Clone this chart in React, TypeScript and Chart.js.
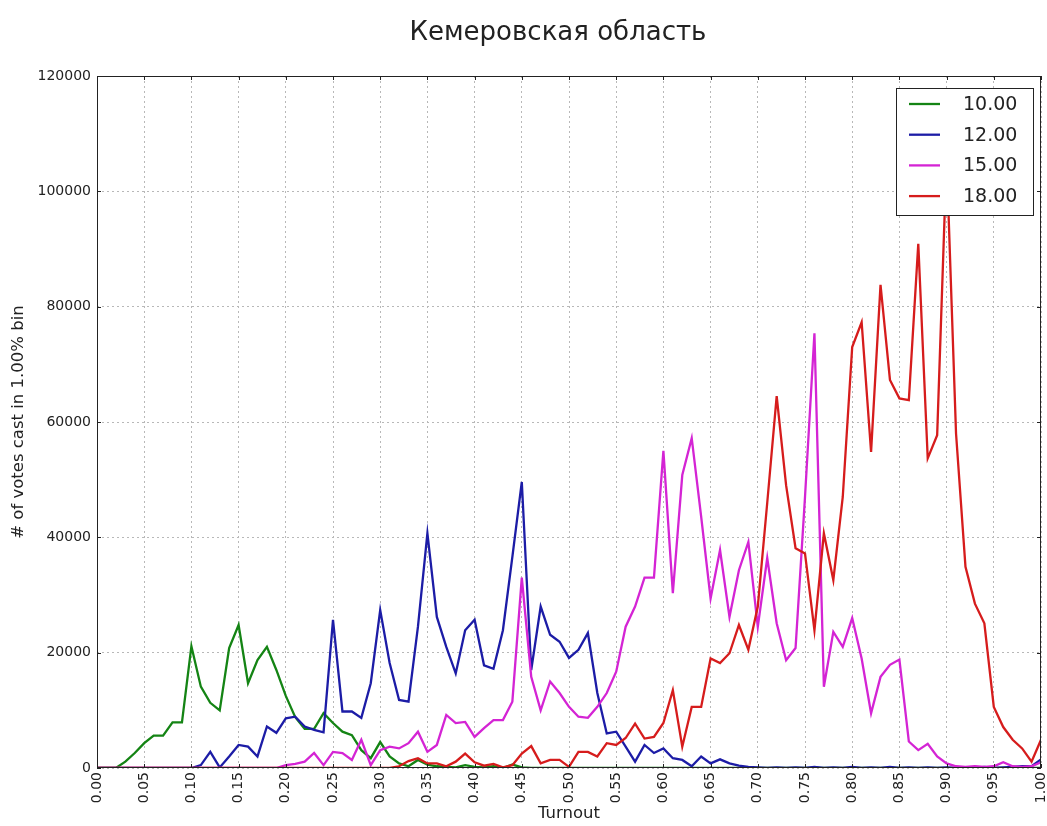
import React, { useEffect, useRef } from 'react';
import { Chart, registerables } from 'chart.js';

Chart.register(...registerables);

const TITLE = 'Кемеровская область';
const X_LABEL = 'Turnout';
const Y_LABEL = '# of votes cast in 1.00% bin';
const SERIES_LABELS = ['10.00', '12.00', '15.00', '18.00'];
const SERIES_COLORS = ['#148414', '#1c1ca6', '#d424d4', '#d61c1c'];

// turnout bins 0.00 .. 1.00 (1% bins)
const BINS: number[] = Array.from({ length: 101 }, (_, i) => i / 100);

const Y_TICKS = [0, 20000, 40000, 60000, 80000, 100000, 120000];

const V10 = [
  0, 0, 0, 1100, 2600, 4300, 5600, 5600, 7900, 7900,
  21100, 14100, 11300, 10000, 20800, 24800, 14700, 18700, 21000, 17000,
  12500, 8800, 6800, 6800, 9500, 7800, 6300, 5700, 3100, 1700,
  4500, 2000, 800, 300, 1400, 600, 300, 200, 100, 500,
  200, 100, 300, 0, 600, 100, 0, 0, 0, 0,
  0, 0, 0, 0, 0, 0, 0, 0, 0, 0,
  0, 0, 0, 0, 0, 0, 0, 0, 0, 0,
  0, 0, 0, 0, 0, 0, 0, 0, 0, 0,
  0, 0, 0, 0, 0, 0, 0, 0, 0, 0,
  0, 0, 0, 0, 0, 0, 0, 0, 0, 0,
  0,
];

const V12 = [
  0, 0, 0, 0, 0, 0, 0, 0, 0, 0,
  0, 500, 2800, 100, 2000, 4000, 3700, 2000, 7200, 6100,
  8600, 8900, 7200, 6600, 6200, 25700, 9800, 9800, 8700, 14700,
  27400, 18200, 11800, 11500, 24500, 40700, 26200, 21000, 16400, 23900,
  25700, 17800, 17200, 23900, 36600, 49600, 17000, 28000, 23100, 21900,
  19100, 20500, 23400, 13000, 6000, 6300, 3700, 1100, 4000, 2600,
  3400, 1700, 1400, 300, 2000, 800, 1500, 800, 400, 200,
  100, 0, 100, 0, 100, 0, 200, 0, 100, 0,
  200, 0, 100, 0, 200, 0, 100, 0, 100, 0,
  100, 0, 100, 0, 200, 0, 100, 200, 300, 300,
  1500,
];

const V15 = [
  0, 0, 0, 0, 0, 0, 0, 0, 0, 0,
  0, 0, 0, 0, 0, 0, 0, 0, 0, 0,
  500, 700, 1100, 2600, 500, 2800, 2600, 1400, 4900, 500,
  3100, 3700, 3400, 4300, 6300, 2800, 4000, 9200, 7800, 8000,
  5400, 6900, 8300, 8300, 11500, 33000, 15800, 10000, 15000, 13000,
  10600, 8900, 8700, 10600, 13000, 16700, 24500, 28000, 33000, 33000,
  55000, 30300, 50800, 57200, 43600, 29400, 37800, 26200, 34300, 39200,
  24500, 36400, 25100, 18700, 20800, 47000, 75400, 14100, 23600, 21000,
  26000, 19000, 9500, 15800, 17900, 18800, 4600, 3100, 4200, 2000,
  800, 300, 200, 300, 200, 300, 1000, 300, 200, 300,
  1000,
];

const V18 = [
  0, 0, 0, 0, 0, 0, 0, 0, 0, 0,
  0, 0, 0, 0, 0, 0, 0, 0, 0, 0,
  0, 0, 0, 0, 0, 0, 0, 0, 0, 0,
  0, 0, 300, 1200, 1700, 800, 800, 300, 1100, 2500,
  1000, 400, 700, 100, 500, 2500, 3800, 800, 1400, 1400,
  200, 2800, 2800, 2000, 4300, 4000, 5200, 7700, 5100, 5400,
  7800, 13500, 3700, 10600, 10600, 19000, 18200, 19900, 24800, 20500,
  28000, 46000, 64500, 49000, 38100, 37200, 23900, 40700, 32600, 47000,
  73000, 77300, 54800, 83800, 67300, 64100, 63800, 90900, 53700, 57700,
  106000, 58000, 34900, 28500, 25100, 10600, 7100, 4900, 3400, 1100,
  4900,
];

const SERIES = [V10, V12, V15, V18];

const FONT = '"DejaVu Sans", "Noto Sans", sans-serif';
const TEXT_COLOR = '#222222';

const decorPlugin = {
  id: 'decor',
  afterDatasetsDraw(chart: any) {
    const { ctx, chartArea: a, scales } = chart;
    ctx.save();
    // frame
    ctx.strokeStyle = '#222';
    ctx.lineWidth = 1;
    ctx.setLineDash([]);
    ctx.strokeRect(a.left + 0.5, a.top + 0.5, a.right - a.left - 1, a.bottom - a.top - 1);
    // inward tick marks
    ctx.beginPath();
    for (const t of scales.x.ticks) {
      const px = Math.round(scales.x.getPixelForValue(t.value)) + 0.5;
      ctx.moveTo(px, a.bottom);
      ctx.lineTo(px, a.bottom - 4);
      ctx.moveTo(px, a.top);
      ctx.lineTo(px, a.top + 4);
    }
    for (const t of scales.y.ticks) {
      const py = Math.round(scales.y.getPixelForValue(t.value)) + 0.5;
      ctx.moveTo(a.left, py);
      ctx.lineTo(a.left + 4, py);
      ctx.moveTo(a.right, py);
      ctx.lineTo(a.right - 4, py);
    }
    ctx.stroke();

    // legend box, upper right inside plot
    const lw = 137;
    const lh = 127;
    const lx = a.right - 8 - lw;
    const ly = a.top + 12;
    ctx.fillStyle = '#ffffff';
    ctx.fillRect(lx, ly, lw, lh);
    ctx.strokeStyle = '#222';
    ctx.lineWidth = 1;
    ctx.strokeRect(lx + 0.5, ly + 0.5, lw, lh);
    ctx.font = `19px ${FONT}`;
    ctx.textBaseline = 'middle';
    ctx.textAlign = 'left';
    SERIES_LABELS.forEach((lab, i) => {
      const y = ly + 16 + i * 30.7;
      ctx.strokeStyle = SERIES_COLORS[i];
      ctx.lineWidth = 2.3;
      ctx.beginPath();
      ctx.moveTo(lx + 13, y);
      ctx.lineTo(lx + 44, y);
      ctx.stroke();
      ctx.fillStyle = TEXT_COLOR;
      ctx.fillText(lab, lx + 67, y + 1);
    });
    ctx.restore();
  },
  afterDraw(chart: any) {
    const { ctx } = chart;
    ctx.save();
    ctx.font = `26px ${FONT}`;
    ctx.fillStyle = TEXT_COLOR;
    ctx.textAlign = 'center';
    ctx.textBaseline = 'middle';
    ctx.fillText(TITLE, 558, 33);
    ctx.restore();
  },
};

export default function App() {
  const ref = useRef<HTMLCanvasElement | null>(null);

  useEffect(() => {
    if (!ref.current) return;
    const datasets = SERIES.map((vals, i) => ({
      label: SERIES_LABELS[i],
      data: vals.map((v, j) => ({ x: BINS[j], y: v })),
      borderColor: SERIES_COLORS[i],
      backgroundColor: SERIES_COLORS[i],
      borderWidth: 2.3,
      pointRadius: 0,
      tension: 0,
      fill: false,
      order: SERIES.length - i,
    }));
    const chart = new Chart(ref.current, {
      type: 'line',
      data: { datasets },
      options: {
        responsive: false,
        animation: false,
        parsing: true,
        layout: { padding: { left: 0, right: 6, top: 76, bottom: 0 } },
        plugins: {
          legend: { display: false },
          title: { display: false },
          tooltip: { enabled: false },
        },
        scales: {
          x: {
            type: 'linear',
            min: 0,
            max: 1,
            ticks: {
              stepSize: 0.05,
              maxTicksLimit: 100,
              autoSkip: false,
              minRotation: 90,
              maxRotation: 90,
              padding: 4,
              color: TEXT_COLOR,
              font: { family: FONT, size: 14 },
              callback: (v: any) => Number(v).toFixed(2),
            },
            grid: { color: '#b8b8b8', lineWidth: 1, drawTicks: false },
            border: { display: false, dash: [2, 3] },
            title: {
              display: true,
              text: X_LABEL,
              color: TEXT_COLOR,
              font: { family: FONT, size: 16.5 },
              padding: { top: 0, bottom: 2 },
            },
            afterFit: (s: any) => {
              s.height = 58;
              s.paddingLeft = 0;
              s.paddingRight = 0;
            },
          },
          y: {
            type: 'linear',
            min: 0,
            max: 120000,
            afterBuildTicks: (s: any) => {
              s.ticks = Y_TICKS.map((v) => ({ value: v }));
            },
            ticks: {
              padding: 6,
              color: TEXT_COLOR,
              font: { family: FONT, size: 14 },
              callback: (v: any) => String(v),
            },
            grid: { color: '#b8b8b8', lineWidth: 1, drawTicks: false },
            border: { display: false, dash: [2, 3] },
            title: {
              display: true,
              text: Y_LABEL,
              color: TEXT_COLOR,
              font: { family: FONT, size: 16.5 },
              padding: { top: 9, bottom: 0 },
            },
            afterFit: (s: any) => {
              s.width = 97;
            },
          },
        },
      },
      plugins: [decorPlugin],
    } as any);
    return () => chart.destroy();
  }, []);

  return (
    <div style={{ position: 'fixed', left: 0, top: 0, width: 1047, height: 826, background: '#fff' }}>
      <canvas ref={ref} width={1047} height={826} style={{ display: 'block' }} />
    </div>
  );
}
